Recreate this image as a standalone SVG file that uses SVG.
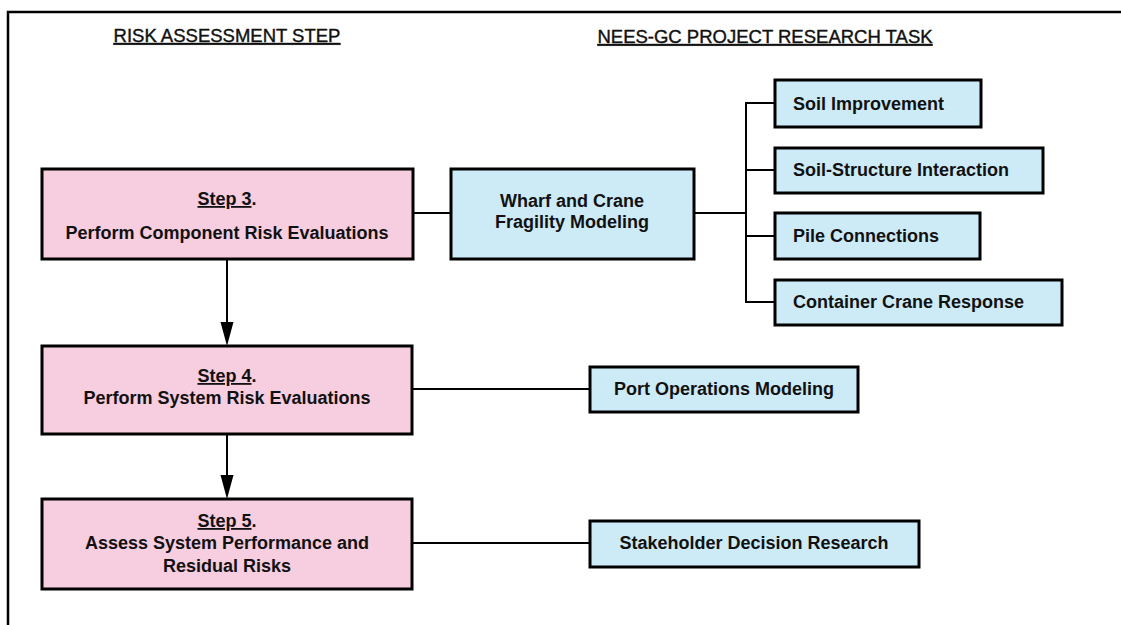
<svg xmlns="http://www.w3.org/2000/svg" width="1121" height="625" viewBox="0 0 1121 625">
  <style>
    .frame { fill: none; stroke: #000; stroke-width: 2.5; }
    .step { fill: #f7cde0; stroke: #000; stroke-width: 3; }
    .task { fill: #cdeaf7; stroke: #000; stroke-width: 3; }
    .wire { fill: none; stroke: #000; stroke-width: 2; }
    .head { font-family: "Liberation Sans", Arial, sans-serif; font-size: 18.5px; fill: #111; stroke: #111; stroke-width: 0.4; text-decoration: underline; }
    .lbl { font-family: "Liberation Sans", Arial, sans-serif; font-size: 18px; font-weight: bold; fill: #111; }
    .mid { text-anchor: middle; }
    .ul { text-decoration: underline; }
  </style>

  <rect width="1121" height="625" fill="#fff"/>
  <!-- outer frame, open to the right and bottom -->
  <path class="frame" d="M8,627 L8,12 L1123,12"/>

  <!-- column headings -->
  <text class="head mid" x="227" y="42">RISK ASSESSMENT STEP</text>
  <text class="head mid" x="765" y="43">NEES-GC PROJECT RESEARCH TASK</text>

  <!-- connectors -->
  <g id="connectors">
    <line class="wire" x1="413" y1="213" x2="451" y2="213"/>
    <line class="wire" x1="694" y1="213" x2="746" y2="213"/>
    <line class="wire" x1="746" y1="103" x2="746" y2="302"/>
    <line class="wire" x1="745" y1="103" x2="775" y2="103"/>
    <line class="wire" x1="746" y1="170" x2="775" y2="170"/>
    <line class="wire" x1="746" y1="236" x2="775" y2="236"/>
    <line class="wire" x1="745" y1="302" x2="775" y2="302"/>
    <line class="wire" x1="412" y1="389" x2="590" y2="389"/>
    <line class="wire" x1="412" y1="543" x2="590" y2="543"/>
    <line class="wire" x1="227" y1="260" x2="227" y2="324"/>
    <path d="M220.5,322 L233.5,322 L227,346 Z" fill="#000"/>
    <line class="wire" x1="227" y1="435" x2="227" y2="477"/>
    <path d="M220.5,475 L233.5,475 L227,499 Z" fill="#000"/>
  </g>

  <!-- risk assessment steps -->
  <g id="step3">
    <rect class="step" x="42" y="169" width="371" height="90"/>
    <text class="lbl mid" x="227" y="205"><tspan class="ul">Step 3</tspan>.</text>
    <text class="lbl mid" x="227" y="239">Perform Component Risk Evaluations</text>
  </g>
  <g id="step4">
    <rect class="step" x="42" y="346" width="370" height="88"/>
    <text class="lbl mid" x="227" y="382"><tspan class="ul">Step 4</tspan>.</text>
    <text class="lbl mid" x="227" y="404">Perform System Risk Evaluations</text>
  </g>
  <g id="step5">
    <rect class="step" x="42" y="499" width="370" height="90"/>
    <text class="lbl mid" x="227" y="527"><tspan class="ul">Step 5</tspan>.</text>
    <text class="lbl mid" x="227" y="549">Assess System Performance and</text>
    <text class="lbl mid" x="227" y="572">Residual Risks</text>
  </g>

  <!-- research tasks -->
  <g id="wharf">
    <rect class="task" x="451" y="169" width="243" height="90"/>
    <text class="lbl mid" x="572" y="207">Wharf and Crane</text>
    <text class="lbl mid" x="572" y="228">Fragility Modeling</text>
  </g>
  <g id="soil-improvement">
    <rect class="task" x="775" y="80" width="206" height="47"/>
    <text class="lbl" x="793" y="110">Soil Improvement</text>
  </g>
  <g id="soil-structure">
    <rect class="task" x="775" y="148" width="268" height="45"/>
    <text class="lbl" x="793" y="176">Soil-Structure Interaction</text>
  </g>
  <g id="pile-connections">
    <rect class="task" x="775" y="213" width="205" height="46"/>
    <text class="lbl" x="793" y="242">Pile Connections</text>
  </g>
  <g id="crane-response">
    <rect class="task" x="775" y="280" width="287" height="45"/>
    <text class="lbl" x="793" y="308">Container Crane Response</text>
  </g>
  <g id="port-operations">
    <rect class="task" x="590" y="367" width="268" height="45"/>
    <text class="lbl mid" x="724" y="395">Port Operations Modeling</text>
  </g>
  <g id="stakeholder">
    <rect class="task" x="590" y="521" width="329" height="46"/>
    <text class="lbl mid" x="754" y="549">Stakeholder Decision Research</text>
  </g>
</svg>
